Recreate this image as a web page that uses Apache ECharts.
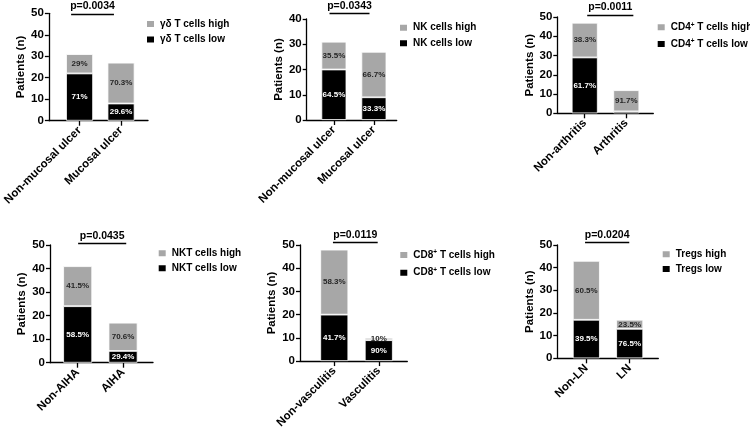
<!DOCTYPE html>
<html>
<head>
<meta charset="utf-8">
<script src="https://cdn.jsdelivr.net/npm/echarts@6/dist/echarts.min.js"></script>
<style>html,body{margin:0;padding:0;background:#fff}#c{width:750px;height:431px}</style>
</head>
<body>
<div id="c"></div>
<script>
// ---------- DATA ----------
const cats1 = ['Non-mucosal ulcer', 'Mucosal ulcer'];
const low1 = [22, 8];
const high1 = [9, 19];
const lowPct1 = ['71%', '29.6%'];
const highPct1 = ['29%', '70.3%'];
const names1 = ['γδ T cells high', 'γδ T cells low'];
const p1 = 'p=0.0034';

const cats2 = ['Non-mucosal ulcer', 'Mucosal ulcer'];
const low2 = [20, 9];
const high2 = [11, 18];
const lowPct2 = ['64.5%', '33.3%'];
const highPct2 = ['35.5%', '66.7%'];
const names2 = ['NK cells high', 'NK cells low'];
const p2 = 'p=0.0343';

const cats3 = ['Non-arthritis', 'Arthritis'];
const low3 = [29, 1];
const high3 = [18, 11];
const lowPct3 = ['61.7%', ''];
const highPct3 = ['38.3%', '91.7%'];
const names3 = ['CD4+ T cells high', 'CD4+ T cells low'];
const p3 = 'p=0.0011';

const cats4 = ['Non-AIHA', 'AIHA'];
const low4 = [24, 5];
const high4 = [17, 12];
const lowPct4 = ['58.5%', '29.4%'];
const highPct4 = ['41.5%', '70.6%'];
const names4 = ['NKT cells high', 'NKT cells low'];
const p4 = 'p=0.0435';

const cats5 = ['Non-vasculitis', 'Vasculitis'];
const low5 = [20, 9];
const high5 = [28, 1];
const lowPct5 = ['41.7%', '90%'];
const highPct5 = ['58.3%', '10%'];
const names5 = ['CD8+ T cells high', 'CD8+ T cells low'];
const p5 = 'p=0.0119';

const cats6 = ['Non-LN', 'LN'];
const low6 = [17, 13];
const high6 = [26, 4];
const lowPct6 = ['39.5%', '76.5%'];
const highPct6 = ['60.5%', '23.5%'];
const names6 = ['Tregs high', 'Tregs low'];
const p6 = 'p=0.0204';

const yMax = [50, 40, 50, 50, 50, 50];
const yTitle = 'Patients (n)';

// ---------- LAYOUT ----------
const FONT = "'Liberation Sans', Arial, Helvetica, sans-serif";
const GRAY = '#a7a7a7';
const BLACK = '#000000';
const EXTRA = 14; // px of headroom for the p-value bracket overlay

const layouts = [
  {left: 43, top: 13.3, w: 105, h: 107.4, xmin: -0.74, xmax: 1.65, bw: 27, gap: 17, lg: [145, 18, 3.5], br: [-0.10, 0.875, 50]},
  {left: 306.7, top: 19, w: 90, h: 101, xmin: -0.68, xmax: 1.57, bw: 25, gap: 21, lg: [398, 21.7, 3.6], br: [-0.11, 0.89, 42.3]},
  {left: 557.3, top: 17, w: 96, h: 96.3, xmin: -0.66, xmax: 1.65, bw: 26, gap: 20, lg: [655.7, 21.3, 4.7], br: [0.06, 1.17, 51]},
  {left: 50, top: 245, w: 103, h: 117.7, xmin: -0.61, xmax: 1.66, bw: 29, gap: 21, lg: [156.7, 247.3, 3], br: [0.01, 1.07, 50.7]},
  {left: 300, top: 245, w: 107.3, h: 116.7, xmin: -0.77, xmax: 1.64, bw: 28, gap: 16, lg: [398.3, 249, 5.7], br: [-0.03, 0.975, 51.2]},
  {left: 557.3, top: 245, w: 101, h: 113.3, xmin: -0.67, xmax: 1.66, bw: 27, gap: 20, lg: [660.7, 248.3, 2.7], br: [-0.03, 0.99, 51]}
];

const panels = [
  {cats: cats1, low: low1, high: high1, lowPct: lowPct1, highPct: highPct1, names: names1, p: p1},
  {cats: cats2, low: low2, high: high2, lowPct: lowPct2, highPct: highPct2, names: names2, p: p2},
  {cats: cats3, low: low3, high: high3, lowPct: lowPct3, highPct: highPct3, names: names3, p: p3},
  {cats: cats4, low: low4, high: high4, lowPct: lowPct4, highPct: highPct4, names: names4, p: p4},
  {cats: cats5, low: low5, high: high5, lowPct: lowPct5, highPct: highPct5, names: names5, p: p5},
  {cats: cats6, low: low6, high: high6, lowPct: lowPct6, highPct: highPct6, names: names6, p: p6}
];

const grid = [], xAxis = [], yAxis = [], series = [], legend = [];

function legendFmt(name) {
  const m = name.match(/^(CD[48])\+(.*)$/);
  if (m) return '{a|' + m[1] + '}{s|+}{a|' + m[2] + '}';
  return '{a|' + name + '}';
}

const N = panels.length;

panels.forEach((pn, i) => {
  const L = layouts[i];
  grid.push({left: L.left, top: L.top, width: L.w, height: L.h, containLabel: false});
  xAxis.push({
    type: 'value', gridIndex: i, min: L.xmin, max: L.xmax,
    splitLine: {show: false},
    axisLine: {show: true, onZero: true, lineStyle: {color: BLACK, width: 1.3}},
    axisTick: {show: true, customValues: [0, 1], length: 5, lineStyle: {color: BLACK, width: 1.3}},
    axisLabel: {
      customValues: [0, 1], rotate: 45, margin: 8,
      fontFamily: FONT, fontWeight: 'bold', fontSize: 11.5, color: BLACK,
      formatter: v => pn.cats[Math.round(v)]
    }
  });
  yAxis.push({
    type: 'value', gridIndex: i, min: 0, max: yMax[i], interval: 10,
    name: yTitle, nameLocation: 'middle', nameGap: L.gap,
    nameTextStyle: {fontFamily: FONT, fontWeight: 'bold', fontSize: 11.5, color: BLACK},
    splitLine: {show: false},
    axisLine: {show: true, onZero: false, lineStyle: {color: BLACK, width: 1.3}},
    axisTick: {show: true, length: 4, lineStyle: {color: BLACK, width: 1.3}},
    axisLabel: {margin: 5, fontFamily: FONT, fontWeight: 'bold', fontSize: 11.5, color: BLACK}
  });
  series.push({
    name: pn.names[1], type: 'bar', stack: 'p' + i, xAxisIndex: i, yAxisIndex: i,
    barWidth: L.bw, encode: {x: 1, y: 0},
    itemStyle: {color: BLACK, borderColor: '#ffffff', borderWidth: 0.8},
    label: {show: true, position: 'inside', fontFamily: FONT, fontWeight: 'bold', fontSize: 8, color: '#ffffff',
      formatter: prm => pn.lowPct[prm.dataIndex]},
    data: pn.low.map((v, k) => [v, k])
  });
  series.push({
    name: pn.names[0], type: 'bar', stack: 'p' + i, xAxisIndex: i, yAxisIndex: i,
    barWidth: L.bw, encode: {x: 1, y: 0},
    itemStyle: {color: GRAY, borderColor: '#ffffff', borderWidth: 0.8},
    label: {show: true, position: 'inside', fontFamily: FONT, fontWeight: 'bold', fontSize: 8, color: '#262626',
      formatter: prm => pn.highPct[prm.dataIndex]},
    data: pn.high.map((v, k) => [v, k])
  });
  legend.push({
    orient: 'vertical', left: L.lg[0], top: L.lg[1], itemGap: L.lg[2], padding: 0,
    itemWidth: 9, itemHeight: 8, icon: 'rect', selectedMode: false,
    data: [pn.names[0], pn.names[1]],
    formatter: legendFmt,
    textStyle: {
      fontFamily: FONT, fontWeight: 'bold', fontSize: 10, color: BLACK, lineHeight: 12,
      rich: {
        a: {fontFamily: FONT, fontWeight: 'bold', fontSize: 10, color: BLACK, lineHeight: 12},
        s: {fontFamily: FONT, fontWeight: 'bold', fontSize: 6.5, color: BLACK, lineHeight: 7, verticalAlign: 'top'}
      }
    }
  });
});

// Overlay grids (hidden axes, same scale, extra headroom) for the p-value brackets
panels.forEach((pn, i) => {
  const L = layouts[i];
  const gi = N + i;
  grid.push({left: L.left, top: L.top - EXTRA, width: L.w, height: L.h + EXTRA, containLabel: false});
  xAxis.push({type: 'value', gridIndex: gi, min: L.xmin, max: L.xmax, show: false});
  yAxis.push({type: 'value', gridIndex: gi, min: 0, max: yMax[i] * (L.h + EXTRA) / L.h, show: false});
  series.push({
    type: 'scatter', xAxisIndex: gi, yAxisIndex: gi, silent: true, data: [],
    markLine: {
      symbol: 'none', silent: true, animation: false,
      lineStyle: {color: BLACK, width: 1.4, type: 'solid'},
      label: {show: true, position: 'insideMiddleTop', distance: 2, formatter: pn.p,
        fontFamily: FONT, fontWeight: 'bold', fontSize: 10.5, color: BLACK},
      emphasis: {disabled: true},
      data: [[{coord: [L.br[0], L.br[2]]}, {coord: [L.br[1], L.br[2]]}]]
    }
  });
});

const chart = echarts.init(document.getElementById('c'), null, {renderer: 'canvas'});
chart.setOption({
  animation: false,
  backgroundColor: '#ffffff',
  grid, xAxis, yAxis, series, legend
});
</script>
</body>
</html>
